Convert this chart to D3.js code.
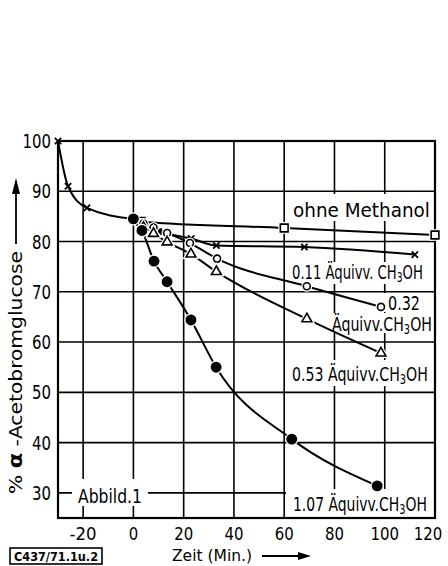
<!DOCTYPE html>
<html lang="de">
<head>
  <meta charset="UTF-8" />
  <title>Abbild. 1</title>
  <script src="https://d3js.org/d3.v7.min.js"></script>
  <style>
    body { margin: 0; background: #fff; }
    svg { display: block; }
    text { font-family: "DejaVu Sans Condensed", "DejaVu Sans", "Liberation Sans Narrow", sans-serif; font-stretch: condensed; fill: #000; }
    .grid line { stroke: #000; stroke-width: 1.6px; }
    .curve { fill: none; stroke: #000; stroke-width: 2px; }
  </style>
</head>
<body>
  <svg width="448" height="566"></svg>
  <script>
    // Werte (Zeit in Min., % α-Acetobromglucose)
    const xTicks = [-20, 0, 20, 40, 60, 80, 100, 120];
    const yTicks = [30, 40, 50, 60, 70, 80, 90, 100];

    const vorlauf = [[-30, 100], [-26, 91], [-18.5, 86.7], [0, 84.5]];
    const ohneMethanol = [[0, 84.5], [3, 84], [60, 82.7], [120, 81.3]];
    const aeq011 = [[0, 84.5], [5, 83], [10, 82], [23, 80.6], [33, 79.2], [68, 78.9], [112, 77.4]];
    const aeq032 = [[0, 84.5], [4, 83.6], [8, 82.8], [13.4, 81.7], [22.5, 79.7], [33.3, 76.6], [69, 71.1], [98.5, 67]];
    const aeq053 = [[0, 84.5], [4, 82.8], [8, 81.6], [13.4, 79.9], [22.9, 77.5], [33, 74], [69, 64.6], [98.5, 57.8]];
    const aeq107 = [[0, 84.5], [3.4, 82.2], [8.2, 76.1], [13.4, 72], [22.9, 64.4], [32.9, 55], [63, 40.7], [97, 31.4]];

    const svg = d3.select("svg");
    const x = d3.scaleLinear().domain([-30, 120]).range([58, 435]);
    const y = d3.scaleLinear().domain([25, 100]).range([518, 141]);

    // Gitter
    const grid = svg.append("g").attr("class", "grid");
    grid.selectAll(".v").data(xTicks.filter(d => d < 120)).join("line")
      .attr("x1", d => x(d)).attr("x2", d => x(d))
      .attr("y1", y(100)).attr("y2", y(25));
    grid.selectAll(".h").data(yTicks.filter(d => d < 100)).join("line")
      .attr("x1", x(-30)).attr("x2", x(120))
      .attr("y1", d => y(d)).attr("y2", d => y(d));

    // weisse Felder hinter den Beschriftungen (unterbrechen das Gitter)
    const boxes = [
      [290, 194, 144, 27], [290, 262, 144, 22], [378, 293, 56, 19],
      [330, 313, 104, 20], [290, 360, 144, 26], [286, 489, 148, 28],
      [72, 479, 76, 27]
    ];
    svg.append("g").selectAll("rect").data(boxes).join("rect")
      .attr("x", d => d[0]).attr("y", d => d[1])
      .attr("width", d => d[2]).attr("height", d => d[3])
      .attr("fill", "#fff");

    // Rahmen
    svg.append("rect")
      .attr("x", x(-30)).attr("y", y(100))
      .attr("width", x(120) - x(-30)).attr("height", y(25) - y(100))
      .attr("fill", "none").attr("stroke", "#000").attr("stroke-width", 2.2);

    // Kurven
    const line = d3.line().x(d => x(d[0])).y(d => y(d[1])).curve(d3.curveMonotoneX);
    const series = [
      { data: vorlauf, mark: "cross", skip: [3] },
      { data: ohneMethanol, mark: "square", skip: [0] },
      { data: aeq011, mark: "cross", skip: [0] },
      { data: aeq032, mark: "circle", skip: [0] },
      { data: aeq053, mark: "triangle", skip: [0] },
      { data: aeq107, mark: "dot", skip: [] }
    ];
    svg.append("g").selectAll("path").data(series).join("path")
      .attr("class", "curve")
      .attr("d", s => line(s.data));

    // Markierungen mit weissem Hof (Linie wird unterbrochen)
    const sym = {
      square: d3.symbol(d3.symbolSquare, 60),
      triangle: d3.symbol(d3.symbolTriangle, 42),
      circle: d3.symbol(d3.symbolCircle, 38),
      dot: d3.symbol(d3.symbolCircle, 68),
      cross: d3.symbol(d3.symbolX, 28)
    };
    const marks = svg.append("g");
    series.forEach(s => {
      const pts = s.data.filter((d, i) => !s.skip.includes(i));
      const g = marks.append("g").selectAll("g").data(pts).join("g")
        .attr("transform", d => `translate(${x(d[0])},${y(d[1])})`);
      if (s.mark !== "cross") {
        g.append("path").attr("d", sym[s.mark]).attr("fill", "#fff")
          .attr("stroke", "#fff").attr("stroke-width", 4);
      }
      g.append("path").attr("d", sym[s.mark])
        .attr("fill", s.mark === "dot" ? "#000" : (s.mark === "cross" ? "none" : "#fff"))
        .attr("stroke", "#000").attr("stroke-width", s.mark === "cross" ? 1.8 : 1.6);
    });

    // Achsenbeschriftung (schmal gesetzt wie im Original)
    const tickW = d => String(d).replace("-", "").length * 9.5 + (d < 0 ? 8 : 0);
    svg.append("g").selectAll("text").data(yTicks).join("text")
      .attr("x", 51).attr("y", d => y(d) + 7)
      .attr("text-anchor", "end").attr("font-size", 19)
      .attr("textLength", tickW).attr("lengthAdjust", "spacingAndGlyphs")
      .text(d => d);
    svg.append("g").selectAll("text").data(xTicks).join("text")
      .attr("x", d => d === 120 ? x(d) - 7 : x(d)).attr("y", 540)
      .attr("text-anchor", "middle").attr("font-size", 18)
      .attr("textLength", tickW).attr("lengthAdjust", "spacingAndGlyphs")
      .text(d => d);

    // Kurvenbeschriftungen: Teile [Text, tiefgestellt?], w = Zielbreite
    const labels = [
      { p: [["ohne Methanol"]], x: 293, y: 217, w: 137 },
      { p: [["0.11 Äquivv. CH"], ["3", 1], ["OH"]], x: 292, y: 279, w: 131 },
      { p: [["0.32"]], x: 388, y: 310, w: 32 },
      { p: [["Äquivv.CH"], ["3", 1], ["OH"]], x: 332, y: 331, w: 100 },
      { p: [["0.53 Äquivv.CH"], ["3", 1], ["OH"]], x: 292, y: 381, w: 136 },
      { p: [["1.07 Äquivv.CH"], ["3", 1], ["OH"]], x: 293, y: 511, w: 134 },
      { p: [["Abbild.1"]], x: 78, y: 503, w: 64 }
    ];
    const lab = svg.append("g").selectAll("text").data(labels).join("text")
      .attr("x", 0).attr("y", 0)
      .attr("font-size", 19);
    lab.selectAll("tspan").data(d => d.p).join("tspan")
      .attr("dy", (p, i) => p[1] ? 3 : (i > 0 ? -3 : 0))
      .attr("font-size", p => p[1] ? "0.7em" : null)
      .text(p => p[0]);
    // schmal stauchen auf die Breite im Original, Höhe bleibt
    lab.each(function (d) {
      const k = Math.min(1.1, d.w / this.getComputedTextLength());
      d3.select(this).attr("transform", `translate(${d.x},${d.y}) scale(${k.toFixed(3)},1)`);
    });

    // x-Achsentitel mit Pfeil
    svg.append("text").attr("x", 172).attr("y", 561).attr("font-size", 16)
      .attr("textLength", 80).attr("lengthAdjust", "spacingAndGlyphs")
      .text("Zeit (Min.)");
    svg.append("line").attr("x1", 262).attr("x2", 300).attr("y1", 556).attr("y2", 556)
      .attr("stroke", "#000").attr("stroke-width", 1.8);
    svg.append("path").attr("d", "M298,552 L311,556 L298,560 Z").attr("fill", "#000");

    // y-Achsentitel mit Pfeil
    const yt = svg.append("text")
      .attr("transform", "translate(22,494) rotate(-90)")
      .attr("font-size", 18)
      .attr("textLength", 243).attr("lengthAdjust", "spacingAndGlyphs");
    yt.append("tspan").text("% ");
    yt.append("tspan").attr("font-weight", "bold").attr("font-size", 20).text("α");
    yt.append("tspan").text(" -Acetobromglucose");
    svg.append("line").attr("x1", 16).attr("x2", 16).attr("y1", 244).attr("y2", 192)
      .attr("stroke", "#000").attr("stroke-width", 1.8);
    svg.append("path").attr("d", "M12,194 L16,178 L20,194 Z").attr("fill", "#000");

    // Kennzeichen unten links
    svg.append("rect").attr("x", 10).attr("y", 548).attr("width", 92).attr("height", 16)
      .attr("fill", "none").attr("stroke", "#000").attr("stroke-width", 1.6);
    svg.append("text").attr("x", 14).attr("y", 561).attr("font-size", 13)
      .attr("font-weight", "bold")
      .attr("textLength", 84).attr("lengthAdjust", "spacingAndGlyphs")
      .text("C437/71.1u.2");
  </script>
</body>
</html>
